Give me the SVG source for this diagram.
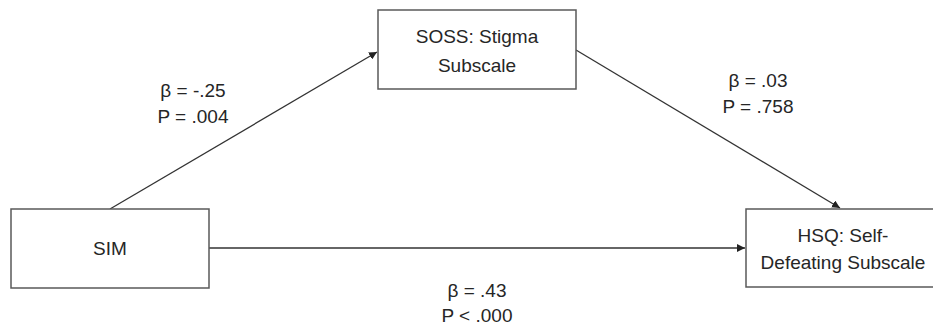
<svg xmlns="http://www.w3.org/2000/svg" width="933" height="331" viewBox="0 0 933 331">
<defs>
<style>
.box{fill:#fff;stroke:#595959;stroke-width:1.5}
.t{font-family:"Liberation Sans","Open Sans",sans-serif;font-size:19px;fill:#262626;text-anchor:middle}
.c{stroke:#333;stroke-width:1.3;fill:none;marker-end:url(#ah)}
</style>
<marker id="ah" viewBox="0 0 10 10" refX="10" refY="5" markerWidth="8" markerHeight="8" markerUnits="userSpaceOnUse" orient="auto">
<path d="M0,0 L10,5 L0,10 z" fill="#222"/>
</marker>
</defs>
<rect width="933" height="331" fill="#fff"/>
<g id="connectors">
<line class="c" x1="110" y1="209" x2="377" y2="52"/>
<line class="c" x1="576" y1="50" x2="840" y2="208"/>
<line class="c" x1="209" y1="248" x2="745" y2="248"/>
</g>
<g id="labels">
<text class="t" x="193" y="97">β = -.25</text>
<text class="t" x="193" y="123">P = .004</text>
<text class="t" x="758" y="87">β = .03</text>
<text class="t" x="758" y="113">P = .758</text>
<text class="t" x="477" y="297">β = .43</text>
<text class="t" x="477" y="322">P &lt; .000</text>
</g>
<g id="sim">
<rect class="box" x="11" y="209" width="198" height="79"/>
<text class="t" x="110" y="255">SIM</text>
</g>
<g id="soss">
<rect class="box" x="378" y="10" width="198" height="79"/>
<text class="t" x="477" y="43">SOSS: Stigma</text>
<text class="t" x="477" y="72">Subscale</text>
</g>
<g id="hsq">
<rect class="box" x="746" y="209" width="198" height="78"/>
<text class="t" x="843" y="242">HSQ: Self-</text>
<text class="t" x="843" y="269">Defeating Subscale</text>
</g>
</svg>
